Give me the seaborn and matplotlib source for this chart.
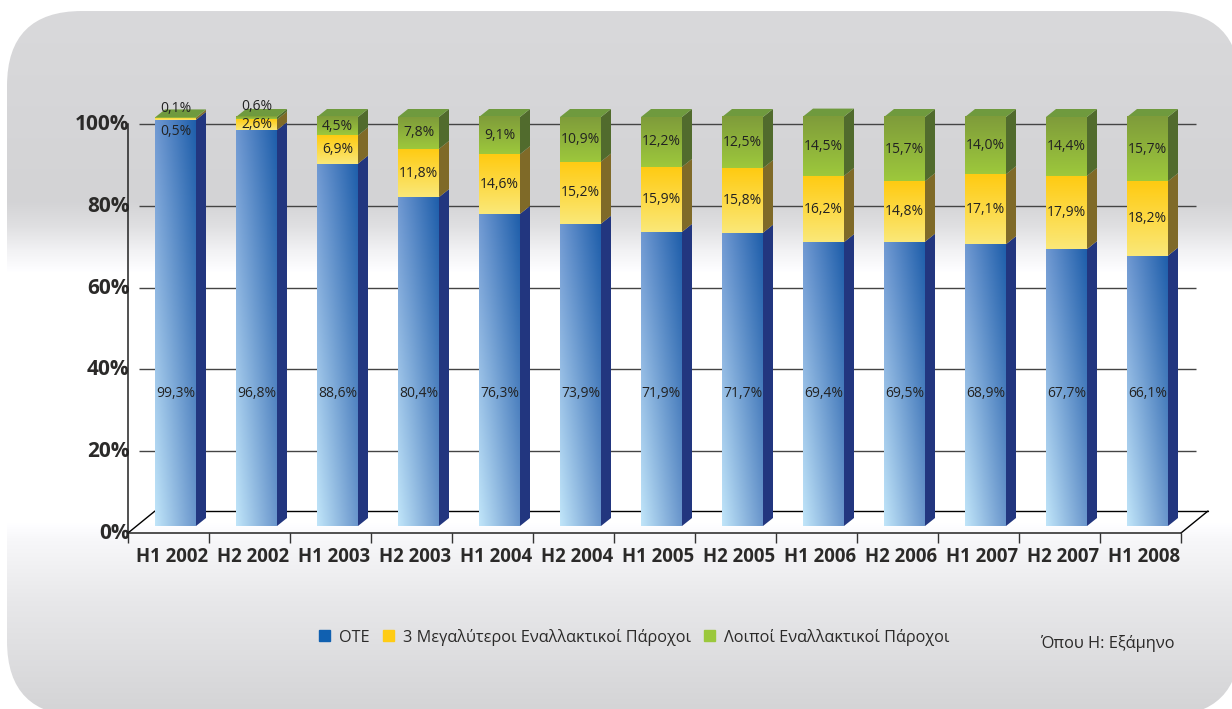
import numpy as np
import matplotlib
matplotlib.use("Agg")
import matplotlib.pyplot as plt
from matplotlib.colors import to_rgb
from matplotlib.patches import FancyBboxPatch, Patch, Polygon
from matplotlib.transforms import ScaledTranslation
import seaborn as sns

periods = ["H1 2002", "H2 2002", "H1 2003", "H2 2003", "H1 2004", "H2 2004", "H1 2005",
           "H2 2005", "H1 2006", "H2 2006", "H1 2007", "H2 2007", "H1 2008"]
ote = [99.3, 96.8, 88.6, 80.4, 76.3, 73.9, 71.9, 71.7, 69.4, 69.5, 68.9, 67.7, 66.1]
big3 = [0.5, 2.6, 6.9, 11.8, 14.6, 15.2, 15.9, 15.8, 16.2, 14.8, 17.1, 17.9, 18.2]
others = [0.1, 0.6, 4.5, 7.8, 9.1, 10.9, 12.2, 12.5, 14.5, 15.7, 14.0, 14.4, 15.7]
series_names = ["ΟΤΕ", "3 Μεγαλύτεροι Εναλλακτικοί Πάροχοι", "Λοιποί Εναλλακτικοί Πάροχοι"]
y_ticks = [0, 20, 40, 60, 80, 100]

W, H = 1232, 709
FONT = "Open Sans"
INK = "#2b2a29"
sns.set_theme(style="white")
plt.rcParams["font.family"] = [FONT, "DejaVu Sans"]

fig = plt.figure(figsize=(W / 100, H / 100), dpi=100, facecolor="white")

# ---- rounded panel with its vertical wash -------------------------------
bg = fig.add_axes([0, 0, 1, 1], zorder=0)
stops_y = [11, 200, 225, 250, 272, 522, 540, 600, 709]
stops_v = [0xd9, 0xd3, 0xdf, 0xf2, 0xff, 0xff, 0xf7, 0xe8, 0xd4]
ramp = np.interp(np.arange(H), stops_y, stops_v) / 255
wash = np.stack([ramp, ramp, np.minimum(ramp + 0.008, 1)], axis=-1)[:, None, :]
im = bg.imshow(wash, extent=(0, W, H, 0), aspect="auto", zorder=1)
bg.set_xlim(0, W)
bg.set_ylim(H, 0)
bg.axis("off")
panel = FancyBboxPatch((7 + 75, 11 + 75), 1233 - 150, 705 - 150,
                       boxstyle="round,pad=75,rounding_size=75",
                       fc="none", ec="none", transform=bg.transData)
bg.add_patch(panel)
im.set_clip_path(panel)

# ---- chart axes: axis box is the front plane of the 3-D floor ------------
L, R, T, B = 128, 1181, 124, 533
ax = fig.add_axes([L / W, 1 - B / H, (R - L) / W, (B - T) / H], zorder=2)
ax.patch.set_alpha(0)
PX_X = 81.0
PX_Y = (B - T) / 100
x_lo = (L - 175.5) / PX_X
ax.set_xlim(x_lo, x_lo + (R - L) / PX_X)
ax.set_ylim(0, 100)

floor = 7 / PX_Y           # bars stand on the floor, behind the front axis
dep_x, dep_y = 10 / PX_X, 8 / PX_Y
floor_x, floor_y = 27 / PX_X, 22 / PX_Y


def grad_image(c_tl, c_tr, c_bl, c_br, n=48):
    u = np.linspace(0, 1, n)[None, :, None]
    v = np.linspace(0, 1, n)[:, None, None]
    tl, tr, bl, br = [np.array(to_rgb(c))[None, None, :] for c in (c_tl, c_tr, c_bl, c_br)]
    return (tl * (1 - u) + tr * u) * (1 - v) + (bl * (1 - u) + br * u) * v


styles = [
    dict(base="#2060ab", grad=("#7099d2", "#1f5fab", "#c0e5f9", "#6a96cc"), side="#22367f"),
    dict(base="#ffcc14", grad=("#ffcb12", "#ffcb12", "#fae878", "#fae878"), side="#7f6a28"),
    dict(base="#9dc53c", grad=("#7f9c3a", "#7f9c3a", "#9dc83c", "#9dc83c"), side="#516b2d"),
]
values = [np.array(ote), np.array(big3), np.array(others)]
bottoms = floor + np.concatenate([[np.zeros(13)], np.cumsum(values, axis=0)[:-1]])

# grid and floor behind the bars
x_left = x_lo
x_right = x_lo + (R - L) / PX_X
ax.hlines(y_ticks[1:], x_left + 11 / PX_X, x_right + 15 / PX_X, color="#444444", lw=1.0,
          zorder=1, clip_on=False)
ax.plot([x_left + floor_x, x_right + floor_x], [floor_y, floor_y], color="black", lw=1, zorder=1, clip_on=False)
ax.plot([x_left, x_left + floor_x], [0, floor_y], color="black", lw=1, zorder=1, clip_on=False)
ax.plot([x_right, x_right + floor_x], [0, floor_y], color="black", lw=1, zorder=1, clip_on=False)

for vals, bots, st in zip(values, bottoms, styles):
    sns.barplot(x=periods, y=vals, color=st["base"], saturation=1, width=41 / PX_X,
                order=periods, ax=ax, zorder=3, clip_on=False, linewidth=0)
    for patch, b in zip(ax.containers[-1], bots):
        patch.set_y(b)
        x0, w, h = patch.get_x(), patch.get_width(), patch.get_height()
        ax.imshow(grad_image(*st["grad"]), extent=(x0, x0 + w, b, b + h), origin="upper",
                  aspect="auto", zorder=3.1, clip_on=False, interpolation="bilinear")
        ax.add_patch(Polygon([(x0 + w, b), (x0 + w + dep_x, b + dep_y),
                              (x0 + w + dep_x, b + h + dep_y), (x0 + w, b + h)],
                             fc=st["side"], ec="none", zorder=3, clip_on=False))

# top caps
for patch_x, top in zip(ax.containers[-1], bottoms[-1] + values[-1]):
    x0, w = patch_x.get_x(), patch_x.get_width()
    ax.add_patch(Polygon([(x0, top), (x0 + w, top), (x0 + w + dep_x, top + dep_y), (x0 + dep_x, top + dep_y)],
                         fc="#6f9a3e", ec="none", zorder=3, clip_on=False))

# value labels
fmt = lambda v: f"{v:.1f}%".replace(".", ",")
LBL = dict(ha="center", va="center", fontsize=10, color="#222222", zorder=6, clip_on=False)
nudge = {(1, 0): -3.2, (2, 0): 2.2, (2, 1): 2.8}
for i in range(13):
    ax.text(i, 34.2, fmt(ote[i]), **LBL)
    for s in (1, 2):
        mid = bottoms[s][i] + values[s][i] / 2
        ax.text(i, mid + nudge.get((s, i), 0), fmt(values[s][i]), **LBL)

# axes furniture
ax.set_yticks(y_ticks)
ax.set_yticklabels([f"{t}%" for t in y_ticks], fontsize=15, fontweight="bold", color=INK)
ax.tick_params(axis="y", length=0, pad=-1)
shift = ScaledTranslation(0, 1.5 / 72, fig.dpi_scale_trans)
for lab in ax.get_yticklabels():
    lab.set_transform(lab.get_transform() + shift)
ax.set_xticks(np.arange(13) - 3.5 / PX_X)
ax.set_xticklabels(periods, fontsize=13.4, fontweight="bold", color=INK)
ax.set_xticks(x_lo + np.arange(14), minor=True)
ax.tick_params(axis="x", which="major", length=0, pad=10)
ax.tick_params(axis="x", which="minor", length=7, width=1, color="#333333", bottom=True)
ax.set_xlabel("")
ax.set_ylabel("")
ax.set_xlim(x_lo, x_right)
ax.set_ylim(0, 100)
for name, sp in ax.spines.items():
    sp.set_visible(name in ("left", "bottom"))
    sp.set_color("#222222")
    sp.set_linewidth(1.1)

# legend and note
handles = [Patch(color=c) for c in ("#1060b0", "#ffcc14", "#9bc83c")]
fig.legend(handles, series_names, ncol=3, frameon=False, loc="center left",
           bbox_to_anchor=(319 / W, 1 - 637 / H), fontsize=11.7, handlelength=0.68, handleheight=0.68,
           handletextpad=0.55, columnspacing=0.8, labelcolor=INK, borderpad=0, borderaxespad=0)
fig.text(1107 / W, 1 - 643 / H, "Όπου Η: Εξάμηνο", ha="center", va="center", fontsize=11.8, color=INK)

fig.savefig("out.png", dpi=100)
